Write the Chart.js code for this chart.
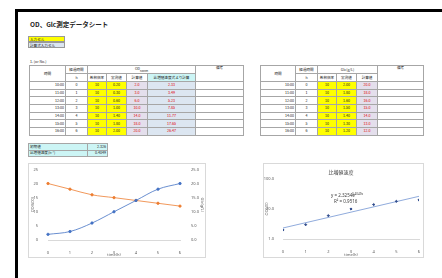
<!DOCTYPE html>
<html>
<head>
<meta charset="utf-8">
<script src="https://cdn.jsdelivr.net/npm/chart.js@4"></script>
<style>
  body { margin: 0; width: 442px; height: 278px; background: #fff; overflow: hidden;
         font-family: "Noto Sans CJK JP", "Noto Sans", sans-serif; color: #222; position: relative; }
  .frame { position: absolute; left: 15px; top: 9px; width: 440px; height: 280px;
           border-left: 3px solid #000; border-top: 3px solid #000; }
  .abs { position: absolute; white-space: nowrap; }
  .title { left: 30px; top: 19px; font-size: 6.5px; font-weight: bold; }
  .key { left: 28px; width: 37px; height: 6px; font-size: 3.6px; line-height: 6px; padding-left: 1px;
         border: 0.5px solid #999; box-sizing: border-box; }
  table { position: absolute; border-collapse: collapse; table-layout: fixed; font-size: 3.6px; }
  td { border: 0.6px solid #a6a6a6; padding: 0 1px; overflow: hidden; white-space: nowrap;
       text-align: center; line-height: 4px; }
  td.r { text-align: right; }
  .yel { background: #ffff00; }
  .pink { background: #e4dfec; color: #e00000; }
  .blu { background: #dce6f1; color: #e00000; }
  .cy { background: #ccf5f5; }
  .chartbox { position: absolute; border: 0.6px solid #d9d9d9; box-sizing: border-box; }
</style>
</head>
<body>
<div class="frame"></div>
<div class="abs title">OD、Glc測定データシート</div>
<div class="abs key yel" style="top:36px">入力セル</div>
<div class="abs key" style="top:42px;background:#dce6f1">計算式入力セル</div>
<div class="abs" style="left:30px;top:59px;font-size:3.6px">1. (or No.)</div>

<table id="odTable" style="left:29px;top:65px;width:214px"></table>
<table id="glcTable" style="left:260px;top:65px;width:163px"></table>
<table id="rateTable" style="left:28px;top:143px;width:79px"></table>

<div class="chartbox" style="left:28px;top:163px;width:178px;height:95px">
  <canvas id="c1" width="177" height="94"></canvas>
</div>
<div class="chartbox" style="left:263px;top:163px;width:161px;height:95px">
  <canvas id="c2" width="160" height="94"></canvas>
</div>

<script>
// sheet data
const times = ['10:00', '11:00', '12:00', '13:00', '14:00', '15:00', '16:00'];
const hours = [0, 1, 2, 3, 4, 5, 6];
const odDilution = [10, 10, 10, 10, 10, 10, 10];
const odMeasured = ['0.20', '0.30', '0.60', '1.00', '1.40', '1.80', '2.00'];
const odValues = [2.0, 3.0, 6.0, 10.0, 14.0, 18.0, 20.0];
const odModel = ['2.33', '3.49', '5.23', '7.85', '11.77', '17.65', '26.47'];
const glcDilution = [10, 10, 10, 10, 10, 10, 10];
const glcMeasured = ['2.00', '1.80', '1.60', '1.50', '1.40', '1.30', '1.20'];
const glcValues = [20.0, 18.0, 16.0, 15.0, 14.0, 13.0, 12.0];
const rateLabels = ['初期値', '比増殖速度(h⁻¹)'];
const rateValues = ['2.326', '0.4049'];
const trendHours = [0, 6];
const trendValues = [2.33, 26.47];
const odTicks = [0, 5, 10, 15, 20, 25];
const logTicks = [1, 10, 100];

function row(cells, h) {
    return '<tr style="height:' + h + 'px">' + cells.join('') + '</tr>';
}

// OD table
let html = '<colgroup><col style="width:36px"><col style="width:22px"><col style="width:19px">' +
    '<col style="width:20px"><col style="width:21px"><col style="width:48px"><col style="width:48px"></colgroup>';
html += row(['<td rowspan="2">時間</td>', '<td>経過時間</td>', '<td colspan="4">OD<sub style="font-size:2.5px">600nm</sub></td>',
    '<td rowspan="2" style="vertical-align:top">備考</td>'], 8);
html += row(['<td>h</td>', '<td>希釈倍率</td>', '<td>実測値</td>', '<td>計算値</td>',
    '<td class="cy">比増殖速度式より計算</td>'], 8);
times.forEach(function(t, i) {
    html += row(['<td class="r">' + t + '</td>', '<td>' + hours[i] + '</td>',
        '<td class="yel">' + odDilution[i] + '</td>', '<td class="yel">' + odMeasured[i] + '</td>',
        '<td class="pink">' + odValues[i].toFixed(1) + '</td>', '<td class="blu">' + odModel[i] + '</td>', '<td></td>'], 7.7);
});
document.getElementById('odTable').innerHTML = html;

// Glc table
html = '<colgroup><col style="width:35px"><col style="width:22px"><col style="width:19px">' +
    '<col style="width:20px"><col style="width:21px"><col style="width:46px"></colgroup>';
html += row(['<td rowspan="2">時間</td>', '<td>経過時間</td>', '<td colspan="3">Glc(g/L)</td>',
    '<td rowspan="2" style="vertical-align:top">備考</td>'], 8);
html += row(['<td>h</td>', '<td>希釈倍率</td>', '<td>実測値</td>', '<td>計算値</td>'], 8);
times.forEach(function(t, i) {
    html += row(['<td class="r">' + t + '</td>', '<td>' + hours[i] + '</td>',
        '<td class="yel">' + glcDilution[i] + '</td>', '<td class="yel">' + glcMeasured[i] + '</td>',
        '<td class="pink">' + glcValues[i].toFixed(1) + '</td>', '<td></td>'], 7.7);
});
document.getElementById('glcTable').innerHTML = html;

// rate table
html = '<colgroup><col style="width:59px"><col style="width:20px"></colgroup>';
rateLabels.forEach(function(l, i) {
    html += row(['<td class="cy" style="text-align:left">' + l + '</td>', '<td class="cy r">' + rateValues[i] + '</td>'], 6.5);
});
document.getElementById('rateTable').innerHTML = html;

const tickFont = { family: 'Noto Sans', size: 4 };
const tickColor = '#595959';

// OD & Glc chart
new Chart(document.getElementById('c1'), {
    type: 'line',
    data: {
        labels: hours,
        datasets: [{
            data: odValues, yAxisID: 'y', borderColor: '#4472c4', backgroundColor: '#4472c4',
            borderWidth: 0.8, pointRadius: 1.2, tension: 0.35
        }, {
            data: glcValues, yAxisID: 'y1', borderColor: '#ed7d31', backgroundColor: '#ed7d31',
            borderWidth: 0.8, pointRadius: 1.2, tension: 0.35
        }]
    },
    options: {
        responsive: false, animation: false,
        layout: { padding: { top: 5 } },
        plugins: { legend: { display: false }, tooltip: { enabled: false } },
        scales: {
            x: {
                grid: { display: false }, border: { color: '#d9d9d9' },
                ticks: { font: tickFont, color: tickColor, padding: 2 },
                title: { display: true, text: 'time(h)', font: tickFont, color: tickColor, padding: 1 },
                afterFit: function(s) { s.height = 18; }
            },
            y: {
                min: 0, max: 25, grid: { display: false }, border: { display: false },
                afterBuildTicks: function(s) { s.ticks = odTicks.map(function(v) { return { value: v }; }); },
                ticks: { font: tickFont, color: tickColor, padding: 2 },
                title: { display: true, text: 'OD(600)', font: tickFont, color: tickColor, padding: 1 },
                afterFit: function(s) { s.width = 19; }
            },
            y1: {
                position: 'right', min: 0, max: 25, grid: { display: false }, border: { display: false },
                afterBuildTicks: function(s) { s.ticks = odTicks.map(function(v) { return { value: v }; }); },
                ticks: { font: tickFont, color: tickColor, padding: 3, callback: function(v) { return v.toFixed(1); } },
                title: { display: true, text: 'Glc(g/L)', font: tickFont, color: tickColor, padding: 1 },
                afterFit: function(s) { s.width = 26; }
            }
        }
    }
});

// specific growth rate chart (log scale)
const labelPlugin = {
    id: 'labels',
    afterDraw: function(chart) {
        const c = chart.ctx;
        c.save();
        c.fillStyle = '#404040';
        c.textAlign = 'center';
        c.font = '5px "Noto Sans CJK JP"';
        c.fillText('比増殖速度', 77, 10);
        c.textAlign = 'left';
        c.font = '4.5px "Noto Sans"';
        c.fillText('y = 2.3254e', 67, 33);
        c.font = '3px "Noto Sans"';
        c.fillText('0.4049x', 88, 31);
        c.font = '4.5px "Noto Sans"';
        c.fillText('R² = 0.9516', 70, 39);
        c.restore();
    }
};

new Chart(document.getElementById('c2'), {
    type: 'scatter',
    data: {
        datasets: [{
            data: hours.map(function(h, i) { return { x: h, y: odValues[i] }; }),
            backgroundColor: '#2f4b8c', borderColor: '#2f4b8c', pointRadius: 1.1, pointStyle: 'rectRot'
        }, {
            type: 'line',
            data: trendHours.map(function(h, i) { return { x: h, y: trendValues[i] }; }),
            borderColor: '#4472c4', borderWidth: 0.6, pointRadius: 0
        }]
    },
    options: {
        responsive: false, animation: false,
        layout: { padding: { top: 15, right: 4 } },
        plugins: { legend: { display: false }, tooltip: { enabled: false } },
        scales: {
            x: {
                type: 'linear', min: 0, max: 6,
                grid: { display: false }, border: { color: '#d9d9d9' },
                ticks: { stepSize: 1, font: tickFont, color: tickColor, padding: 2 },
                title: { display: true, text: 'time(h)', font: tickFont, color: tickColor, padding: 1 },
                afterFit: function(s) { s.height = 19; }
            },
            y: {
                type: 'logarithmic', min: 1, max: 100,
                grid: { display: false }, border: { display: false },
                afterBuildTicks: function(s) { s.ticks = logTicks.map(function(v) { return { value: v }; }); },
                ticks: { font: tickFont, color: tickColor, padding: 1, autoSkip: false,
                         callback: function(v) { return Number(v).toFixed(1); } },
                title: { display: true, text: 'OD600', font: tickFont, color: tickColor, padding: 0 },
                afterFit: function(s) { s.width = 19; }
            }
        }
    },
    plugins: [labelPlugin]
});
</script>
</body>
</html>
